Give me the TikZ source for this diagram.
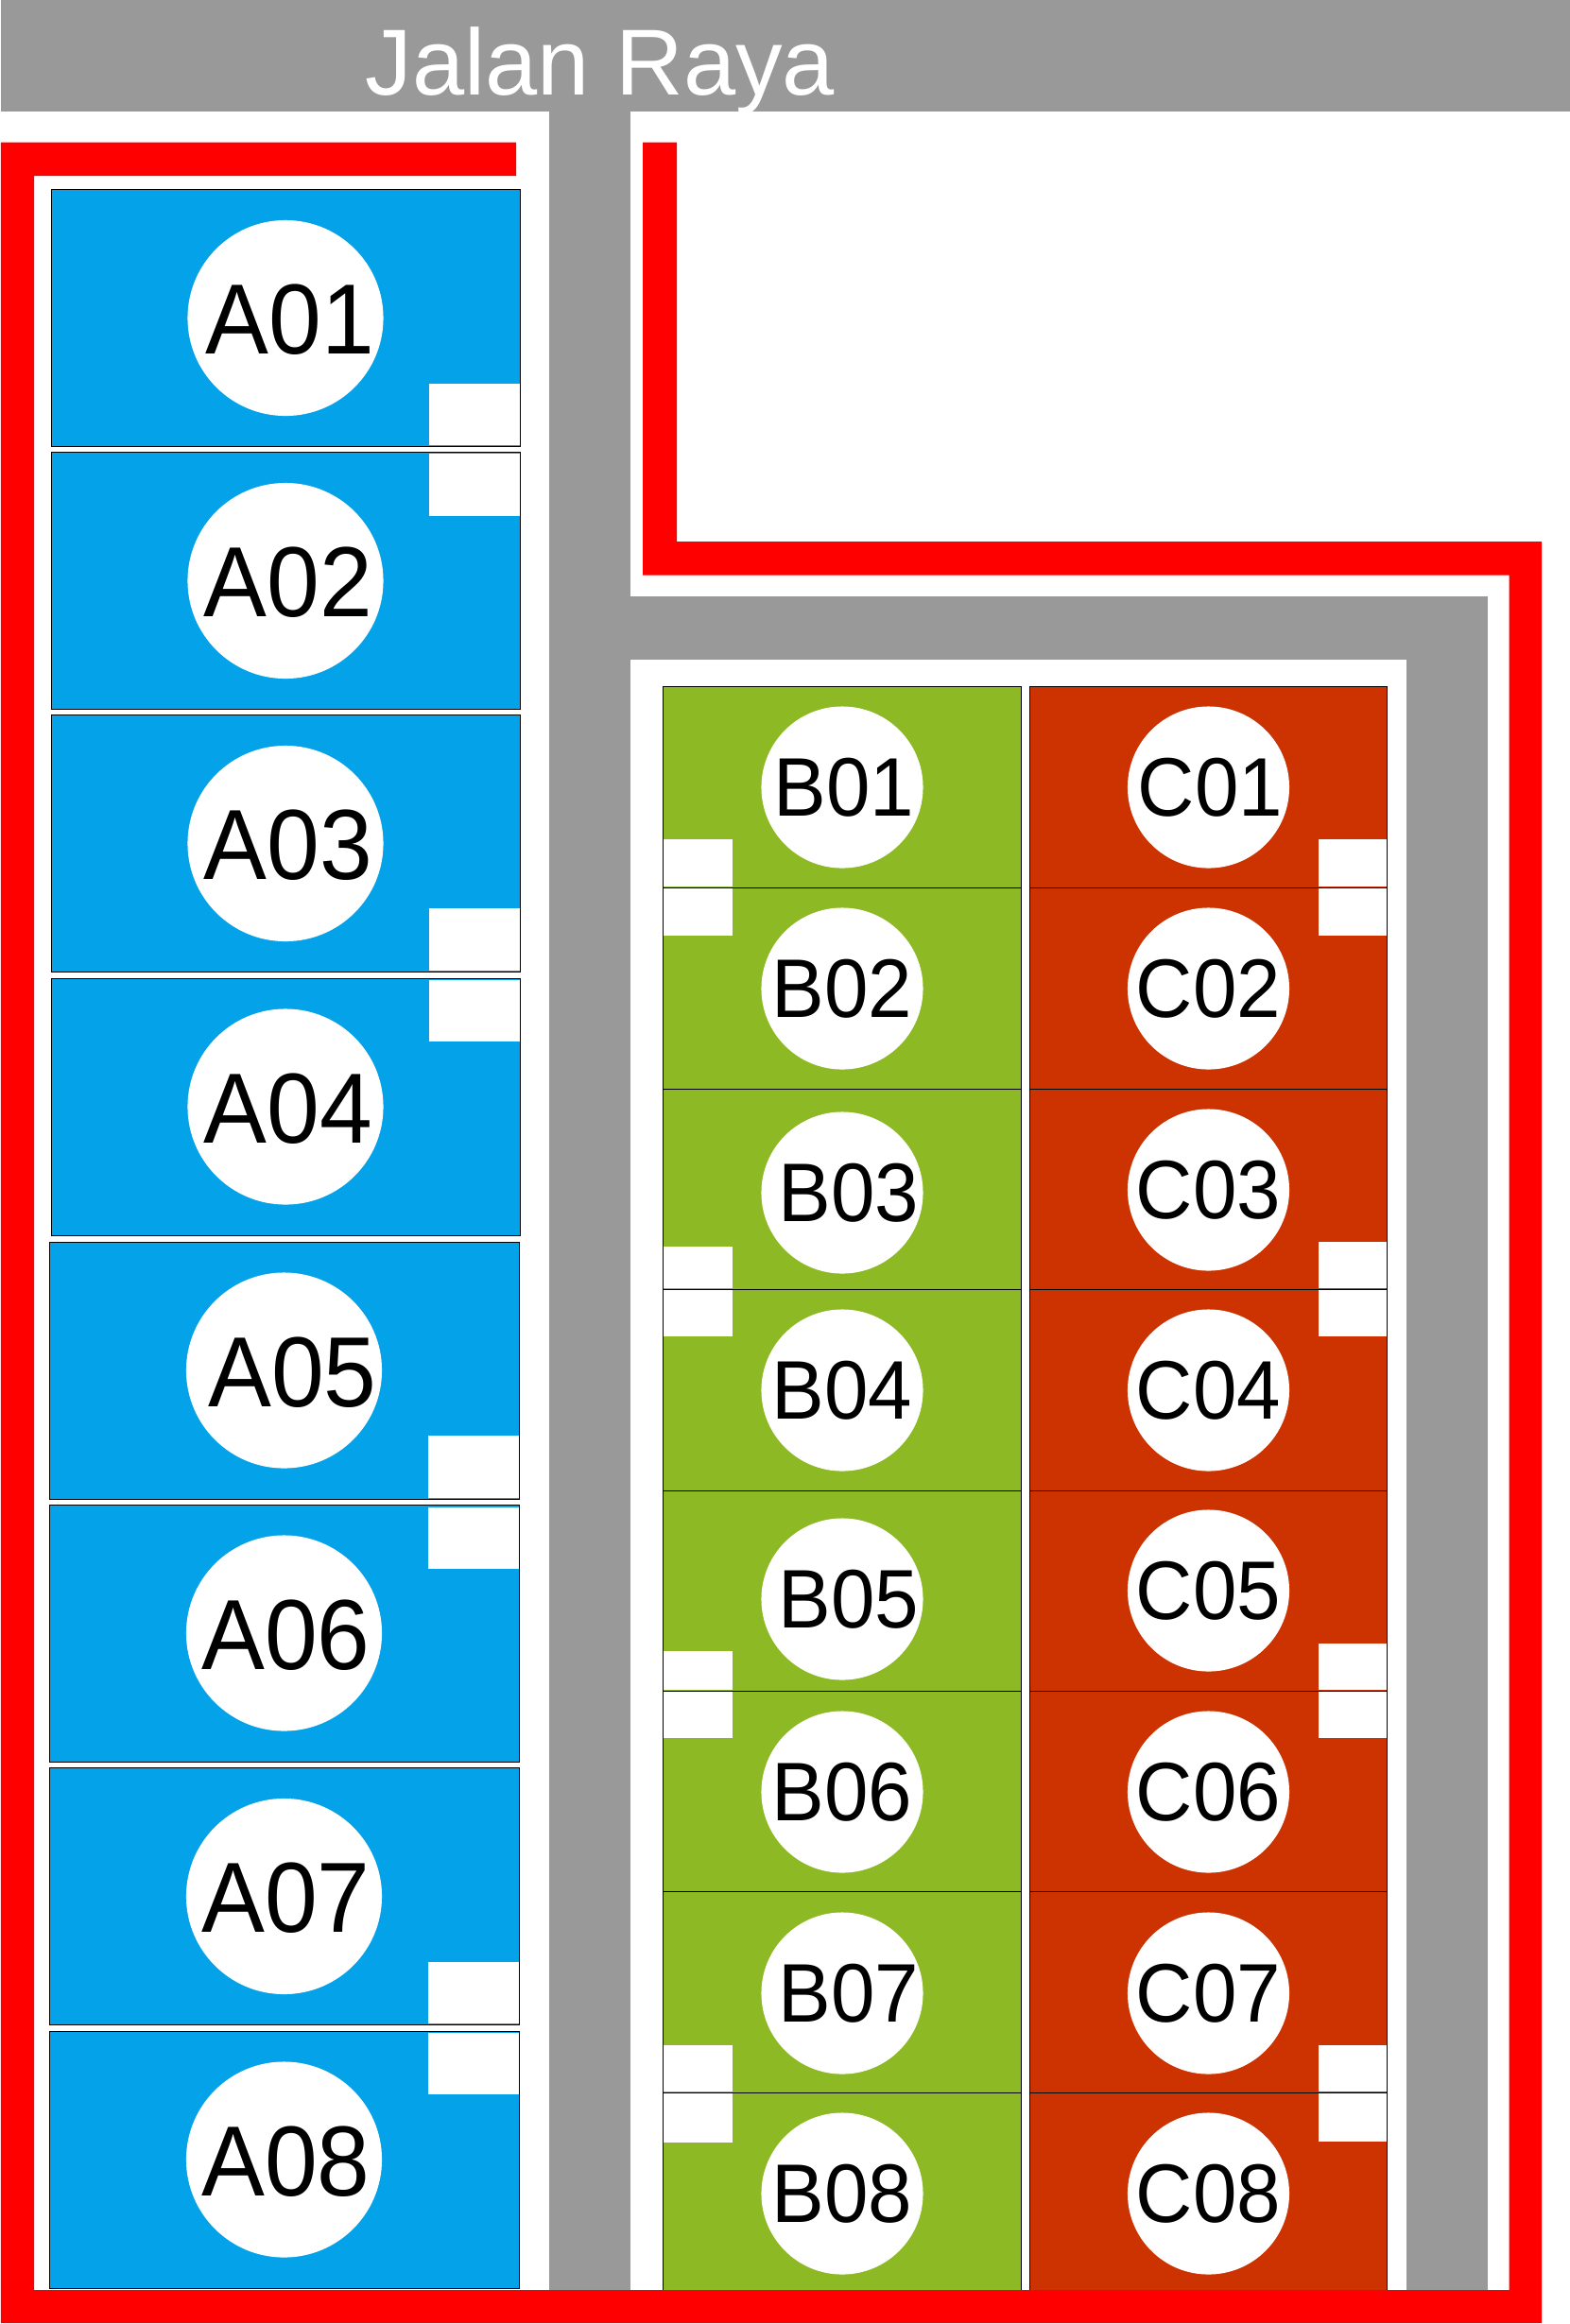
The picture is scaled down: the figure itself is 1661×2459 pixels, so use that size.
\documentclass[tikz,border=0pt]{standalone}
\usepackage{fontspec}
\usepackage{xcolor}
\usepackage{tikz}
\setmainfont{Liberation Sans}
\newfontfamily\lotfont[FakeStretch=0.95]{Liberation Sans}
\definecolor{lotblue}{HTML}{04A2E9}
\definecolor{lotgreen}{HTML}{8CB924}
\definecolor{lotbrick}{HTML}{CC3300}
\definecolor{roadgray}{HTML}{999999}

\begin{document}
\begin{tikzpicture}[
      x=0.01cm, y=-0.01cm,
      type-road/.style={fill=roadgray},
      type-fence/.style={fill=red},
      type-a/.style={draw=black, fill=lotblue, line width=0.25pt},
      type-b/.style={draw=black, fill=lotgreen, line width=0.25pt},
      type-c/.style={draw=black, fill=lotbrick, line width=0.25pt},
      type-circle-a/.style={circle, fill=white, inner sep=0pt, minimum size=2.07cm},
      type-circle-b/.style={circle, fill=white, inner sep=0pt, minimum size=1.71cm},
      type-label-a/.style={inner sep=0pt, font=\lotfont\fontsize{30}{30}\selectfont},
      type-label-b/.style={inner sep=0pt, font=\lotfont\fontsize{25}{25}\selectfont},
      type-title/.style={inner sep=0pt, anchor=base, text=white, font=\fontsize{28.2}{28.2}\selectfont}
    ]
      \useasboundingbox (0,0) rectangle (1661,2459);
      \fill[type-road] (1,0) rectangle (1661,118);
      \fill[type-road] (581,118) rectangle (666.5,2423);
      \fill[type-road] (666.5,631) rectangle (1574,698);
      \fill[type-road] (1488,698) rectangle (1574,2423);
      \node[type-title] (title) at (635,100.5) {Jalan Raya};
      \foreach \name/\xa/\ya/\na/\nb/\dx in {
        A01/54/200.5/405.5/471/5, A02/54/478.5/480/545.5/3,
        A03/54/756.5/961/1027/3, A04/54/1035/1037/1102/3,
        A05/52.5/1314/1519/1585/9, A06/52.5/1592/1595/1660/2,
        A07/52.5/1870.5/2076/2141/2, A08/52.5/2149/2151/2216/2} {
        \draw[type-a] (\xa,\ya) rectangle ++(496.5,272);
        \fill[white] (\xa+400,\na) rectangle (\xa+496,\nb);
        \node[type-circle-a] (c\name) at (\xa+248,\ya+136) {};
        \node[type-label-a] (t\name) at (\xa+248+\dx,\ya+138) {\name};
      }
      \foreach \name/\ya/\yb/\cy/\na/\nb/\dx in {
        B01/726/939/833/888/938/2, B02/939/1152/1046/940/990/0,
        B03/1152/1364/1262/1319/1363/7, B04/1364/1577/1471/1365/1414/0,
        B05/1577/1789/1692/1747/1788/7, B06/1789/2001/1896/1790/1839/0,
        B07/2001/2214/2109/2164/2213/7, B08/2214/2430/2321/2215/2267/0} {
        \draw[type-b] (701.5,\ya) rectangle (1080,\yb);
        \fill[white] (702,\na) rectangle (775,\nb);
        \node[type-circle-b] (c\name) at (891,\cy) {};
        \node[type-label-b] (t\name) at (891+\dx,\cy) {\name};
      }
      \foreach \name/\ya/\yb/\cy/\na/\nb/\dx in {
        C01/726/939/833/888/938/2, C02/939/1152/1046/940/990/0,
        C03/1152/1364/1259/1314/1363/0, C04/1364/1577/1471/1365/1414/0,
        C05/1577/1789/1683/1739/1788/0, C06/1789/2001/1896/1790/1839/0,
        C07/2001/2214/2109/2164/2213/0, C08/2214/2430/2321/2215/2266/0} {
        \draw[type-c] (1089,\ya) rectangle (1467,\yb);
        \fill[white] (1395,\na) rectangle (1466.5,\nb);
        \node[type-circle-b] (c\name) at (1278.5,\cy) {};
        \node[type-label-b] (t\name) at (1278.5+\dx,\cy) {\name};
      }
      \fill[type-fence] (546,150.5) -- (1,150.5) -- (1,2458) -- (1631,2458) -- (1631,573)
        -- (716,573) -- (716,150.5) -- (680,150.5) -- (680,608.5) -- (1596.5,608.5)
        -- (1596.5,2423) -- (36,2423) -- (36,186) -- (546,186) -- cycle;
    \end{tikzpicture}
\end{document}
